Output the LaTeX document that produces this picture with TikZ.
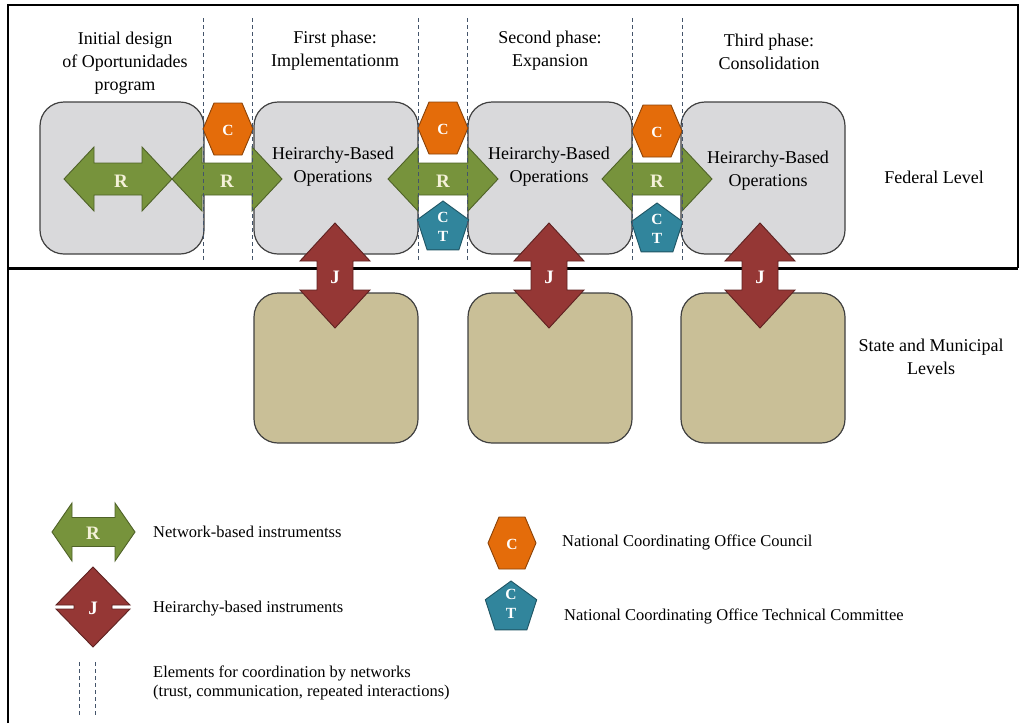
\documentclass[tikz,border=0pt]{standalone}
\usepackage{fontspec}
\setmainfont{Liberation Serif}

\definecolor{fedgray}{HTML}{D9D9DB}
\definecolor{loctan}{HTML}{C9BF97}
\definecolor{boxline}{HTML}{404040}
\definecolor{netgreen}{HTML}{77933C}
\definecolor{netdark}{HTML}{4F6228}
\definecolor{hierred}{HTML}{953735}
\definecolor{hierdark}{HTML}{5E2221}
\definecolor{councilorange}{HTML}{E46C0A}
\definecolor{councildark}{HTML}{8A4208}
\definecolor{techblue}{HTML}{31859C}
\definecolor{techdark}{HTML}{1F5564}
\definecolor{dashcol}{HTML}{44546A}
\definecolor{lblcream}{HTML}{F4F1D8}

\tikzset{
    fedbox/.style = {draw=boxline, fill=fedgray, line width=1.2pt, rounded corners=24pt,
                     minimum width=164pt, minimum height=152pt, inner sep=0pt},
    locbox/.style = {fedbox, fill=loctan, minimum height=150pt},
    netarrow/.style = {draw=netdark, fill=netgreen, line width=0.9pt},
    hierarrow/.style = {draw=hierdark, fill=hierred, line width=0.9pt},
    councilshape/.style = {draw=councildark, fill=councilorange, line width=0.9pt},
    techshape/.style = {draw=techdark, fill=techblue, line width=0.9pt},
    shapelbl/.style = {text=lblcream, inner sep=0pt, font=\bfseries\fontsize{19}{19}\selectfont},
    smalllbl/.style = {text=white, inner sep=0pt, align=center, font=\bfseries\fontsize{15.5}{19.5}\selectfont},
    headtext/.style = {align=center, inner sep=0pt, font=\fontsize{18}{23}\selectfont},
    legtext/.style = {anchor=west, align=left, inner sep=0pt, font=\fontsize{16.5}{19.5}\selectfont},
    netline/.style = {draw=dashcol, line width=0.9pt, dash pattern=on 4pt off 3pt},
    frameline/.style = {draw=black, line width=2pt}
}

\begin{document}
\begin{tikzpicture}[x=1pt, y=-1pt]
    \useasboundingbox (0,0) rectangle (1019,723);

    % frame and level divider
    \draw[frameline] (8,723) -- (8,5) -- (1018,5) -- (1018,268);
    \draw[frameline, line width=3pt] (8,268) -- (1018,268);

    % federal and local boxes
    \node[fedbox] (fed1) at (122,178) {};
    \node[fedbox] (fed2) at (336,178) {};
    \node[fedbox] (fed3) at (550,178) {};
    \node[fedbox] (fed4) at (763,178) {};
    \node[locbox] (loc2) at (336,368) {};
    \node[locbox] (loc3) at (550,368) {};
    \node[locbox] (loc4) at (763,368) {};

    \node[headtext] (op2) at (333,167) {Heirarchy-Based\\Operations};
    \node[headtext] (op3) at (549,167) {Heirarchy-Based\\Operations};
    \node[headtext] (op4) at (768,171) {Heirarchy-Based\\Operations};

    % network-based instruments
    \draw[netarrow] (64,179) -- ++(30,-32) -- ++(0,16) -- ++(48,0) -- ++(0,-16) -- ++(30,32)
        -- ++(-30,32) -- ++(0,-16) -- ++(-48,0) -- ++(0,16) -- cycle
        (121,181) node[shapelbl] (r1) {R};
    \draw[netarrow] (172,179) -- ++(30,-32) -- ++(0,16) -- ++(50,0) -- ++(0,-16) -- ++(30,32)
        -- ++(-30,32) -- ++(0,-16) -- ++(-50,0) -- ++(0,16) -- cycle
        (227,181) node[shapelbl] (r2) {R};
    \draw[netarrow] (388,179) -- ++(30,-32) -- ++(0,16) -- ++(50,0) -- ++(0,-16) -- ++(30,32)
        -- ++(-30,32) -- ++(0,-16) -- ++(-50,0) -- ++(0,16) -- cycle
        (443,181) node[shapelbl] (r3) {R};
    \draw[netarrow] (602,179) -- ++(30,-32) -- ++(0,16) -- ++(50,0) -- ++(0,-16) -- ++(30,32)
        -- ++(-30,32) -- ++(0,-16) -- ++(-50,0) -- ++(0,16) -- cycle
        (657,181) node[shapelbl] (r4) {R};

    % coordinating office council
    \draw[councilshape] (203,129) -- ++(11,-26) -- ++(28,0) -- ++(11,26) -- ++(-11,26) -- ++(-28,0) -- cycle
        (228,130) node[smalllbl] (c1) {C};
    \draw[councilshape] (418,128) -- ++(11,-26) -- ++(28,0) -- ++(11,26) -- ++(-11,26) -- ++(-28,0) -- cycle
        (443,129) node[smalllbl] (c2) {C};
    \draw[councilshape] (632,131) -- ++(11,-26) -- ++(28,0) -- ++(11,26) -- ++(-11,26) -- ++(-28,0) -- cycle
        (657,132) node[smalllbl] (c3) {C};

    % coordinating office technical committee
    \draw[techshape] (443,201) -- ++(25.7,18.7) -- ++(-9.8,30.1) -- ++(-31.8,0) -- ++(-9.8,-30.1) -- cycle
        (443,227) node[smalllbl] (ct2) {C\\T};
    \draw[techshape] (657,203) -- ++(25.7,18.7) -- ++(-9.8,30.1) -- ++(-31.8,0) -- ++(-9.8,-30.1) -- cycle
        (657,229) node[smalllbl] (ct3) {C\\T};

    % hierarchy-based instruments
    \draw[hierarrow] (335,223) -- ++(35,38) -- ++(-17,0) -- ++(0,29) -- ++(17,0) -- ++(-35,38)
        -- ++(-35,-38) -- ++(17,0) -- ++(0,-29) -- ++(-17,0) -- cycle
        (335,277) node[shapelbl, text=white] (j2) {J};
    \draw[hierarrow] (549,223) -- ++(35,38) -- ++(-17,0) -- ++(0,29) -- ++(17,0) -- ++(-35,38)
        -- ++(-35,-38) -- ++(17,0) -- ++(0,-29) -- ++(-17,0) -- cycle
        (549,277) node[shapelbl, text=white] (j3) {J};
    \draw[hierarrow] (760,223) -- ++(35,38) -- ++(-17,0) -- ++(0,29) -- ++(17,0) -- ++(-35,38)
        -- ++(-35,-38) -- ++(17,0) -- ++(0,-29) -- ++(-17,0) -- cycle
        (760,277) node[shapelbl, text=white] (j4) {J};

    % coordination by networks
    \draw[netline] (203,18) -- (203,262);
    \draw[netline] (252,18) -- (252,262);
    \draw[netline] (418,18) -- (418,262);
    \draw[netline] (467,18) -- (467,262);
    \draw[netline] (632,18) -- (632,262);
    \draw[netline] (682,18) -- (682,262);

    % phases and levels
    \node[headtext] (initial) at (125,63) {Initial design\\of Oportunidades\\program};
    \node[headtext] (first) at (335,51) {First phase:\\Implementationm};
    \node[headtext] (second) at (550,51) {Second phase:\\Expansion};
    \node[headtext] (third) at (769,52) {Third phase:\\Consolidation};
    \node[headtext] (federal) at (934,177) {Federal Level};
    \node[headtext] (state) at (931,357) {State and Municipal\\Levels};

    % legend
    \draw[netarrow] (52,532) -- ++(20,-29) -- ++(0,14.5) -- ++(43,0) -- ++(0,-14.5) -- ++(20,29)
        -- ++(-20,29) -- ++(0,-14.5) -- ++(-43,0) -- ++(0,14.5) -- cycle
        (93,533) node[shapelbl] (rleg) {R};
    \node[legtext] (rtext) at (153,532) {Network-based instrumentss};

    \draw[hierarrow] (93,567) -- (130,605) -- (112,605) -- (112,609) -- (130,609) -- (93,647)
        -- (56,609) -- (74,609) -- (74,605) -- (56,605) -- cycle
        (93,608) node[shapelbl, text=white] (jleg) {J};
    \node[legtext] (jtext) at (153,609) {Heirarchy-based instruments};

    \draw[netline] (79,662) -- (79,716);
    \draw[netline] (95,662) -- (95,716);
    \node[legtext] (ntext) at (153,683) {Elements for coordination by networks\\(trust, communication, repeated interactions)};

    \draw[councilshape] (488,543) -- ++(11,-26) -- ++(26,0) -- ++(11,26) -- ++(-11,26) -- ++(-26,0) -- cycle
        (512,544) node[smalllbl] (cleg) {C};
    \node[legtext] (ctext) at (562,542) {National Coordinating Office Council};

    \draw[techshape] (511,581) -- ++(25.7,18.7) -- ++(-9.8,30.1) -- ++(-31.8,0) -- ++(-9.8,-30.1) -- cycle
        (511,604) node[smalllbl] (ctleg) {C\\T};
    \node[legtext] (cttext) at (564,616) {National Coordinating Office Technical Committee};

\end{tikzpicture}
\end{document}
